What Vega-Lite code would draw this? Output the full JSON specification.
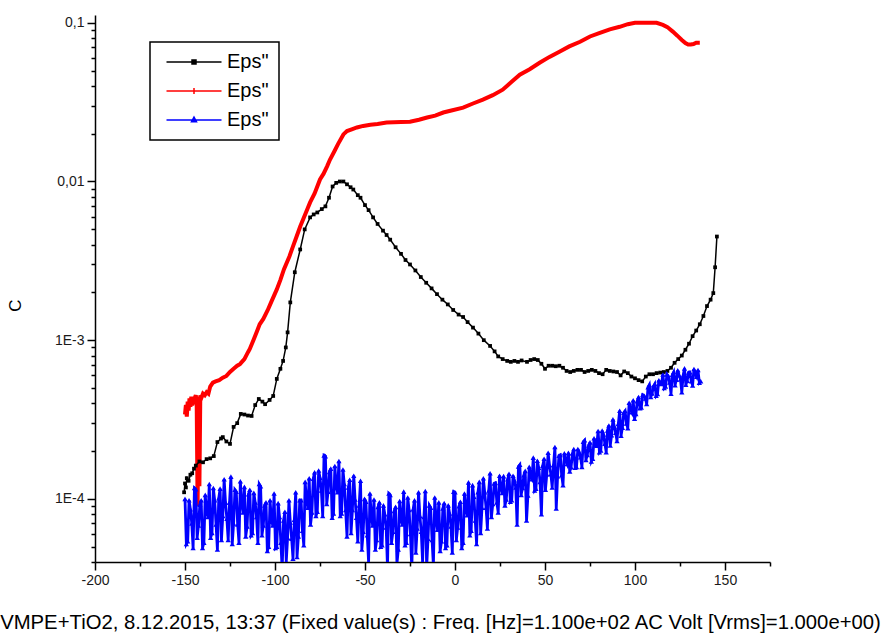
{
"$schema": "https://vega.github.io/schema/vega-lite/v6.json",
"width": 675, "height": 547,
"autosize": {"type": "none"},
"padding": {"left": 95, "top": 15, "right": 112, "bottom": 76},
"background": "#ffffff",
"config": {"view": {"stroke": null}, "axis": {"grid": false, "domainColor": "#000000", "domainWidth": 1.5, "tickColor": "#000000", "tickWidth": 1.5, "labelFont": "Liberation Sans", "labelColor": "#1a1a1a", "labelFontSize": 14, "titleFont": "Liberation Sans", "titleFontWeight": "normal", "titleColor": "#111111"}},
"datasets": {
"black": [
{"T":-150.5,"C":1.10e-4},{"T":-150,"C":1.25e-4},{"T":-149.5,"C":1.18e-4},{"T":-149,"C":1.35e-4},{"T":-148,"C":1.30e-4},{"T":-147,"C":1.42e-4},{"T":-146,"C":1.45e-4},{"T":-145,"C":1.55e-4},{"T":-144,"C":1.62e-4},{"T":-142,"C":1.72e-4},{"T":-140,"C":1.70e-4},{"T":-138,"C":1.78e-4},{"T":-136,"C":1.80e-4},{"T":-134,"C":1.86e-4},{"T":-132,"C":2.28e-4},{"T":-130,"C":2.40e-4},{"T":-129,"C":2.45e-4},{"T":-127,"C":2.30e-4},{"T":-125,"C":2.22e-4},{"T":-123,"C":2.84e-4},{"T":-121,"C":3.0e-4},{"T":-119,"C":3.43e-4},{"T":-117,"C":3.40e-4},{"T":-115,"C":3.35e-4},{"T":-113,"C":3.33e-4},{"T":-111,"C":3.9e-4},{"T":-109,"C":4.26e-4},{"T":-107,"C":4.1e-4},{"T":-105.5,"C":3.95e-4},{"T":-103,"C":4.2e-4},{"T":-101,"C":4.45e-4},{"T":-99,"C":5.7e-4},{"T":-97,"C":6.6e-4},{"T":-95.5,"C":7.4e-4},{"T":-94,"C":9.0e-4},{"T":-93,"C":1.12e-3},{"T":-91.5,"C":1.73e-3},{"T":-89,"C":2.68e-3},{"T":-86,"C":3.73e-3},{"T":-83.5,"C":4.99e-3},{"T":-80.5,"C":5.94e-3},{"T":-78.5,"C":6.2e-3},{"T":-76.5,"C":6.38e-3},{"T":-74,"C":6.7e-3},{"T":-72,"C":6.97e-3},{"T":-70,"C":7.9e-3},{"T":-68,"C":9.3e-3},{"T":-66,"C":9.8e-3},{"T":-64,"C":1.0e-2},{"T":-62,"C":1.0e-2},{"T":-60,"C":9.6e-3},{"T":-58,"C":9.2e-3},{"T":-56.5,"C":8.9e-3},{"T":-54,"C":8.2e-3},{"T":-52.5,"C":7.9e-3},{"T":-50,"C":7.1e-3},{"T":-48,"C":6.6e-3},{"T":-45.5,"C":5.94e-3},{"T":-43,"C":5.4e-3},{"T":-40,"C":4.9e-3},{"T":-38,"C":4.6e-3},{"T":-36,"C":4.3e-3},{"T":-33,"C":3.85e-3},{"T":-30,"C":3.5e-3},{"T":-27.5,"C":3.2e-3},{"T":-25,"C":3.0e-3},{"T":-22,"C":2.75e-3},{"T":-19,"C":2.5e-3},{"T":-16,"C":2.3e-3},{"T":-13,"C":2.12e-3},{"T":-10,"C":1.95e-3},{"T":-7,"C":1.8e-3},{"T":-4,"C":1.68e-3},{"T":-1,"C":1.55e-3},{"T":2,"C":1.45e-3},{"T":4.5,"C":1.4e-3},{"T":7,"C":1.3e-3},{"T":10,"C":1.2e-3},{"T":13,"C":1.1e-3},{"T":16,"C":1.0e-3},{"T":19.5,"C":9.2e-4},{"T":22,"C":8.5e-4},{"T":24,"C":7.9e-4},{"T":26.5,"C":7.6e-4},{"T":29,"C":7.4e-4},{"T":31,"C":7.3e-4},{"T":33,"C":7.4e-4},{"T":35,"C":7.3e-4},{"T":37,"C":7.45e-4},{"T":40,"C":7.3e-4},{"T":42,"C":7.5e-4},{"T":44,"C":7.6e-4},{"T":46,"C":7.5e-4},{"T":48,"C":7.1e-4},{"T":50,"C":6.6e-4},{"T":52,"C":6.9e-4},{"T":54,"C":6.9e-4},{"T":56,"C":6.85e-4},{"T":58,"C":6.9e-4},{"T":60,"C":6.7e-4},{"T":62,"C":6.4e-4},{"T":64,"C":6.3e-4},{"T":66,"C":6.4e-4},{"T":68,"C":6.5e-4},{"T":70,"C":6.5e-4},{"T":72,"C":6.3e-4},{"T":74,"C":6.4e-4},{"T":76,"C":6.5e-4},{"T":78,"C":6.4e-4},{"T":80,"C":6.2e-4},{"T":82,"C":6.1e-4},{"T":84,"C":6.5e-4},{"T":86,"C":6.4e-4},{"T":88,"C":6.35e-4},{"T":90,"C":6.3e-4},{"T":92,"C":6.0e-4},{"T":94,"C":6.35e-4},{"T":96,"C":6.2e-4},{"T":98,"C":5.9e-4},{"T":100,"C":5.75e-4},{"T":102,"C":5.6e-4},{"T":104,"C":5.5e-4},{"T":106,"C":5.9e-4},{"T":108,"C":6.1e-4},{"T":110,"C":6.1e-4},{"T":112,"C":6.2e-4},{"T":114,"C":6.25e-4},{"T":116,"C":6.3e-4},{"T":118,"C":6.4e-4},{"T":120,"C":6.7e-4},{"T":122,"C":7.2e-4},{"T":124,"C":7.6e-4},{"T":126,"C":8.0e-4},{"T":128,"C":8.7e-4},{"T":130,"C":9.5e-4},{"T":132,"C":1.06e-3},{"T":134,"C":1.15e-3},{"T":136,"C":1.26e-3},{"T":138,"C":1.42e-3},{"T":140,"C":1.64e-3},{"T":142,"C":1.8e-3},{"T":143.5,"C":1.98e-3},{"T":144.5,"C":2.88e-3},{"T":145.5,"C":4.5e-3}
],
"red": [
{"T":-150,"C":3.4e-4},{"T":-149.5,"C":3.9e-4},{"T":-149,"C":3.3e-4},{"T":-148.5,"C":4.1e-4},{"T":-148,"C":3.6e-4},{"T":-147.5,"C":4.3e-4},{"T":-147,"C":3.8e-4},{"T":-146.5,"C":4.4e-4},{"T":-146,"C":3.9e-4},{"T":-145,"C":4.2e-4},{"T":-144,"C":4.5e-4},{"T":-143.5,"C":4.0e-4},{"T":-143,"C":9.0e-5},{"T":-142.5,"C":4.4e-4},{"T":-142,"C":1.2e-4},{"T":-141.5,"C":4.5e-4},{"T":-141,"C":4.3e-4},{"T":-140,"C":4.6e-4},{"T":-139,"C":4.5e-4},{"T":-138,"C":4.7e-4},{"T":-137,"C":4.6e-4},{"T":-136,"C":5.1e-4},{"T":-134.5,"C":5.4e-4},{"T":-133,"C":5.5e-4},{"T":-131,"C":5.6e-4},{"T":-129,"C":5.8e-4},{"T":-127,"C":5.95e-4},{"T":-125,"C":6.3e-4},{"T":-123,"C":6.6e-4},{"T":-121,"C":6.9e-4},{"T":-119.5,"C":7.06e-4},{"T":-117,"C":7.6e-4},{"T":-115,"C":8.4e-4},{"T":-114,"C":8.8e-4},{"T":-112,"C":1.0e-3},{"T":-110,"C":1.14e-3},{"T":-108.5,"C":1.26e-3},{"T":-106.5,"C":1.36e-3},{"T":-104,"C":1.55e-3},{"T":-102,"C":1.75e-3},{"T":-99,"C":2.09e-3},{"T":-97,"C":2.4e-3},{"T":-95,"C":2.8e-3},{"T":-92,"C":3.37e-3},{"T":-90,"C":3.9e-3},{"T":-88,"C":4.5e-3},{"T":-86,"C":5.2e-3},{"T":-84,"C":5.9e-3},{"T":-82,"C":6.7e-3},{"T":-80.5,"C":7.38e-3},{"T":-78,"C":8.4e-3},{"T":-76.5,"C":9.3e-3},{"T":-75,"C":1.03e-2},{"T":-73,"C":1.12e-2},{"T":-71,"C":1.25e-2},{"T":-69.5,"C":1.37e-2},{"T":-67,"C":1.55e-2},{"T":-65,"C":1.72e-2},{"T":-62,"C":1.98e-2},{"T":-60,"C":2.08e-2},{"T":-57,"C":2.14e-2},{"T":-54.5,"C":2.19e-2},{"T":-51,"C":2.24e-2},{"T":-47,"C":2.28e-2},{"T":-43,"C":2.3e-2},{"T":-38,"C":2.35e-2},{"T":-34,"C":2.36e-2},{"T":-30,"C":2.37e-2},{"T":-25,"C":2.38e-2},{"T":-20,"C":2.45e-2},{"T":-15.5,"C":2.53e-2},{"T":-11,"C":2.6e-2},{"T":-6.5,"C":2.72e-2},{"T":-2,"C":2.8e-2},{"T":4.5,"C":2.92e-2},{"T":10,"C":3.1e-2},{"T":15.5,"C":3.28e-2},{"T":21,"C":3.5e-2},{"T":26.5,"C":3.79e-2},{"T":31,"C":4.2e-2},{"T":36,"C":4.71e-2},{"T":41.5,"C":5.1e-2},{"T":47,"C":5.6e-2},{"T":52.5,"C":6.1e-2},{"T":58,"C":6.58e-2},{"T":63.5,"C":7.1e-2},{"T":69.5,"C":7.6e-2},{"T":75,"C":8.2e-2},{"T":80.5,"C":8.65e-2},{"T":86,"C":9.1e-2},{"T":91.5,"C":9.44e-2},{"T":96,"C":9.8e-2},{"T":100,"C":1.0e-1},{"T":104,"C":1.0e-1},{"T":108,"C":1.0e-1},{"T":112,"C":1.0e-1},{"T":115.5,"C":9.7e-2},{"T":118,"C":9.4e-2},{"T":121,"C":8.8e-2},{"T":123.5,"C":8.3e-2},{"T":126,"C":7.8e-2},{"T":128,"C":7.45e-2},{"T":129.5,"C":7.3e-2},{"T":131,"C":7.3e-2},{"T":132.5,"C":7.35e-2},{"T":134,"C":7.5e-2},{"T":136,"C":7.5e-2}
],
"blue": [
{"T":-150,"C":10.0e-5},{"T":-148.5,"C":5.4e-5},{"T":-147,"C":8.6e-5},{"T":-145.5,"C":4.9e-5},{"T":-144,"C":11.5e-5},{"T":-142.5,"C":6.8e-5},{"T":-141,"C":9.8e-5},{"T":-139.5,"C":5.3e-5},{"T":-138,"C":8.3e-5},{"T":-136.5,"C":12.4e-5},{"T":-135,"C":6.1e-5},{"T":-133.5,"C":9.8e-5},{"T":-132,"C":4.8e-5},{"T":-130.5,"C":11.6e-5},{"T":-129,"C":7.8e-5},{"T":-127.5,"C":9.5e-5},{"T":-126,"C":5.5e-5},{"T":-124.5,"C":13.8e-5},{"T":-123,"C":7.0e-5},{"T":-121.5,"C":11.1e-5},{"T":-120,"C":5.3e-5},{"T":-118.5,"C":9.4e-5},{"T":-117,"C":11.9e-5},{"T":-115.5,"C":6.7e-5},{"T":-114,"C":11.4e-5},{"T":-112.5,"C":6.1e-5},{"T":-111,"C":9.5e-5},{"T":-109.5,"C":5.3e-5},{"T":-108,"C":12.0e-5},{"T":-106.5,"C":6.8e-5},{"T":-105,"C":9.5e-5},{"T":-103.5,"C":5.0e-5},{"T":-102,"C":7.4e-5},{"T":-100.5,"C":10.8e-5},{"T":-99,"C":5.0e-5},{"T":-97.5,"C":7.7e-5},{"T":-96,"C":3.6e-5},{"T":-94.5,"C":8.3e-5},{"T":-93,"C":5.7e-5},{"T":-91.5,"C":7.1e-5},{"T":-90,"C":4.2e-5},{"T":-88.5,"C":11.0e-5},{"T":-87,"C":5.8e-5},{"T":-85.5,"C":9.8e-5},{"T":-84,"C":5.1e-5},{"T":-82.5,"C":9.8e-5},{"T":-81,"C":13.5e-5},{"T":-79.5,"C":8.2e-5},{"T":-78,"C":14.7e-5},{"T":-76.5,"C":8.3e-5},{"T":-75,"C":13.6e-5},{"T":-73.5,"C":7.8e-5},{"T":-72,"C":18.6e-5},{"T":-70.5,"C":11.1e-5},{"T":-69,"C":15.5e-5},{"T":-67.5,"C":8.1e-5},{"T":-66,"C":12.1e-5},{"T":-64.5,"C":17.3e-5},{"T":-63,"C":8.1e-5},{"T":-61.5,"C":12.4e-5},{"T":-60,"C":5.8e-5},{"T":-58.5,"C":13.2e-5},{"T":-57,"C":8.5e-5},{"T":-55.5,"C":9.9e-5},{"T":-54,"C":5.4e-5},{"T":-52.5,"C":13.0e-5},{"T":-51,"C":6.2e-5},{"T":-49.5,"C":9.6e-5},{"T":-48,"C":4.0e-5},{"T":-46.5,"C":7.8e-5},{"T":-45,"C":9.9e-5},{"T":-43.5,"C":5.5e-5},{"T":-42,"C":9.5e-5},{"T":-40.5,"C":5.1e-5},{"T":-39,"C":8.0e-5},{"T":-37.5,"C":3.7e-5},{"T":-36,"C":10.6e-5},{"T":-34.5,"C":6.2e-5},{"T":-33,"C":8.9e-5},{"T":-31.5,"C":4.8e-5},{"T":-30,"C":7.4e-5},{"T":-28.5,"C":11.1e-5},{"T":-27,"C":5.3e-5},{"T":-25.5,"C":8.5e-5},{"T":-24,"C":3.6e-5},{"T":-22.5,"C":9.8e-5},{"T":-21,"C":6.5e-5},{"T":-19.5,"C":7.8e-5},{"T":-18,"C":4.0e-5},{"T":-16.5,"C":11.2e-5},{"T":-15,"C":5.6e-5},{"T":-13.5,"C":8.8e-5},{"T":-12,"C":3.8e-5},{"T":-10.5,"C":7.4e-5},{"T":-9,"C":9.5e-5},{"T":-7.5,"C":5.4e-5},{"T":-6,"C":9.4e-5},{"T":-4.5,"C":5.1e-5},{"T":-3,"C":8.1e-5},{"T":-1.5,"C":4.6e-5},{"T":0,"C":11.0e-5},{"T":1.5,"C":6.6e-5},{"T":3,"C":9.6e-5},{"T":4.5,"C":5.3e-5},{"T":6,"C":8.4e-5},{"T":7.5,"C":12.7e-5},{"T":9,"C":6.3e-5},{"T":10.5,"C":10.3e-5},{"T":12,"C":5.2e-5},{"T":13.5,"C":12.8e-5},{"T":15,"C":8.8e-5},{"T":16.5,"C":11.0e-5},{"T":18,"C":6.5e-5},{"T":19.5,"C":14.5e-5},{"T":21,"C":9.3e-5},{"T":22.5,"C":12.6e-5},{"T":24,"C":8.2e-5},{"T":25.5,"C":11.8e-5},{"T":27,"C":13.9e-5},{"T":28.5,"C":9.9e-5},{"T":30,"C":14.4e-5},{"T":31.5,"C":9.8e-5},{"T":33,"C":13.1e-5},{"T":34.5,"C":6.9e-5},{"T":36,"C":16.4e-5},{"T":37.5,"C":11.7e-5},{"T":39,"C":15.0e-5},{"T":40.5,"C":10.5e-5},{"T":42,"C":13.7e-5},{"T":43.5,"C":18.2e-5},{"T":45,"C":11.6e-5},{"T":46.5,"C":15.7e-5},{"T":48,"C":8.0e-5},{"T":49.5,"C":17.9e-5},{"T":51,"C":14.3e-5},{"T":52.5,"C":16.3e-5},{"T":54,"C":11.8e-5},{"T":55.5,"C":21.2e-5},{"T":57,"C":13.9e-5},{"T":58.5,"C":18.9e-5},{"T":60,"C":12.2e-5},{"T":61.5,"C":17.4e-5},{"T":63,"C":19.5e-5},{"T":64.5,"C":15.8e-5},{"T":66,"C":20.6e-5},{"T":67.5,"C":15.9e-5},{"T":69,"C":19.7e-5},{"T":70.5,"C":15.9e-5},{"T":72,"C":23.4e-5},{"T":73.5,"C":18.9e-5},{"T":75,"C":22.7e-5},{"T":76.5,"C":17.9e-5},{"T":78,"C":21.8e-5},{"T":79.5,"C":26.8e-5},{"T":81,"C":20.2e-5},{"T":82.5,"C":25.5e-5},{"T":84,"C":19.7e-5},{"T":85.5,"C":29.0e-5},{"T":87,"C":25.2e-5},{"T":88.5,"C":28.5e-5},{"T":90,"C":23.2e-5},{"T":91.5,"C":35.9e-5},{"T":93,"C":28.1e-5},{"T":94.5,"C":35.8e-5},{"T":96,"C":27.9e-5},{"T":97.5,"C":36.6e-5},{"T":99,"C":41.8e-5},{"T":100.5,"C":34.3e-5},{"T":102,"C":43.8e-5},{"T":103.5,"C":37.6e-5},{"T":105,"C":44.8e-5},{"T":106.5,"C":39.7e-5},{"T":108,"C":52.4e-5},{"T":109.5,"C":46.1e-5},{"T":111,"C":53.0e-5},{"T":112.5,"C":45.8e-5},{"T":114,"C":53.0e-5},{"T":115.5,"C":60.8e-5},{"T":117,"C":51.0e-5},{"T":118.5,"C":59.3e-5},{"T":120,"C":46.0e-5},{"T":121.5,"C":63.0e-5},{"T":123,"C":56.4e-5},{"T":124.5,"C":60.2e-5},{"T":126,"C":47.0e-5},{"T":127.5,"C":66.4e-5},{"T":129,"C":55.5e-5},{"T":130.5,"C":62.8e-5},{"T":132,"C":51.9e-5},{"T":133.5,"C":61.2e-5},{"T":135,"C":64.8e-5},{"T":136.5,"C":55.2e-5},
{"T":-149.25,"C":5.2e-5},{"T":-147.75,"C":9.8e-5},{"T":-146.25,"C":7.0e-5},{"T":-144.75,"C":11.7e-5},{"T":-143.25,"C":5.7e-5},{"T":-141.75,"C":9.2e-5},{"T":-140.25,"C":4.9e-5},{"T":-138.75,"C":10.6e-5},{"T":-137.25,"C":7.7e-5},{"T":-135.75,"C":5.7e-5},{"T":-134.25,"C":11.7e-5},{"T":-132.75,"C":6.9e-5},{"T":-131.25,"C":10.1e-5},{"T":-129.75,"C":5.5e-5},{"T":-128.25,"C":13.3e-5},{"T":-126.75,"C":7.5e-5},{"T":-125.25,"C":9.5e-5},{"T":-123.75,"C":5.2e-5},{"T":-122.25,"C":11.4e-5},{"T":-120.75,"C":6.9e-5},{"T":-119.25,"C":12.9e-5},{"T":-117.75,"C":8.2e-5},{"T":-116.25,"C":5.8e-5},{"T":-114.75,"C":10.7e-5},{"T":-113.25,"C":5.9e-5},{"T":-111.75,"C":10.9e-5},{"T":-110.25,"C":7.7e-5},{"T":-108.75,"C":12.4e-5},{"T":-107.25,"C":5.9e-5},{"T":-105.75,"C":9.1e-5},{"T":-104.25,"C":4.7e-5},{"T":-102.75,"C":9.8e-5},{"T":-101.25,"C":6.8e-5},{"T":-99.75,"C":4.9e-5},{"T":-98.25,"C":9.4e-5},{"T":-96.75,"C":5.3e-5},{"T":-95.25,"C":7.3e-5},{"T":-93.75,"C":4.0e-5},{"T":-92.25,"C":9.8e-5},{"T":-90.75,"C":5.6e-5},{"T":-89.25,"C":7.4e-5},{"T":-87.75,"C":4.3e-5},{"T":-86.25,"C":9.8e-5},{"T":-84.75,"C":6.3e-5},{"T":-83.25,"C":12.8e-5},{"T":-81.75,"C":8.8e-5},{"T":-80.25,"C":6.9e-5},{"T":-78.75,"C":13.4e-5},{"T":-77.25,"C":7.8e-5},{"T":-75.75,"C":15.1e-5},{"T":-74.25,"C":11.3e-5},{"T":-72.75,"C":18.8e-5},{"T":-71.25,"C":9.3e-5},{"T":-69.75,"C":14.8e-5},{"T":-68.25,"C":7.6e-5},{"T":-66.75,"C":16.1e-5},{"T":-65.25,"C":11.0e-5},{"T":-63.75,"C":7.8e-5},{"T":-62.25,"C":15.3e-5},{"T":-60.75,"C":8.5e-5},{"T":-59.25,"C":11.8e-5},{"T":-57.75,"C":6.1e-5},{"T":-56.25,"C":14.0e-5},{"T":-54.75,"C":7.6e-5},{"T":-53.25,"C":9.1e-5},{"T":-51.75,"C":4.8e-5},{"T":-50.25,"C":10.0e-5},{"T":-48.75,"C":5.9e-5},{"T":-47.25,"C":10.8e-5},{"T":-45.75,"C":6.8e-5},{"T":-44.25,"C":4.8e-5},{"T":-42.75,"C":8.9e-5},{"T":-41.25,"C":5.0e-5},{"T":-39.75,"C":9.1e-5},{"T":-38.25,"C":6.6e-5},{"T":-36.75,"C":10.8e-5},{"T":-35.25,"C":5.3e-5},{"T":-33.75,"C":8.4e-5},{"T":-32.25,"C":3.9e-5},{"T":-30.75,"C":9.7e-5},{"T":-29.25,"C":6.9e-5},{"T":-27.75,"C":5.1e-5},{"T":-26.25,"C":10.2e-5},{"T":-24.75,"C":6.0e-5},{"T":-23.25,"C":8.6e-5},{"T":-21.75,"C":4.6e-5},{"T":-20.25,"C":11.0e-5},{"T":-18.75,"C":6.2e-5},{"T":-17.25,"C":7.7e-5},{"T":-15.75,"C":3.7e-5},{"T":-14.25,"C":9.1e-5},{"T":-12.75,"C":5.5e-5},{"T":-11.25,"C":10.2e-5},{"T":-9.75,"C":6.4e-5},{"T":-8.25,"C":4.7e-5},{"T":-6.75,"C":8.7e-5},{"T":-5.25,"C":4.9e-5},{"T":-3.75,"C":9.1e-5},{"T":-2.25,"C":6.7e-5},{"T":-0.75,"C":11.1e-5},{"T":0.75,"C":5.5e-5},{"T":2.25,"C":9.0e-5},{"T":3.75,"C":4.9e-5},{"T":5.25,"C":10.8e-5},{"T":6.75,"C":7.9e-5},{"T":8.25,"C":5.9e-5},{"T":9.75,"C":12.2e-5},{"T":11.25,"C":7.3e-5},{"T":12.75,"C":11.0e-5},{"T":14.25,"C":6.1e-5},{"T":15.75,"C":13.5e-5},{"T":17.25,"C":8.8e-5},{"T":18.75,"C":11.3e-5},{"T":20.25,"C":7.7e-5},{"T":21.75,"C":12.5e-5},{"T":23.25,"C":9.5e-5},{"T":24.75,"C":14.0e-5},{"T":26.25,"C":10.9e-5},{"T":27.75,"C":9.1e-5},{"T":29.25,"C":13.3e-5},{"T":30.75,"C":9.6e-5},{"T":32.25,"C":14.0e-5},{"T":33.75,"C":11.8e-5},{"T":35.25,"C":16.0e-5},{"T":36.75,"C":10.6e-5},{"T":38.25,"C":14.1e-5},{"T":39.75,"C":7.3e-5},{"T":41.25,"C":15.9e-5},{"T":42.75,"C":13.3e-5},{"T":44.25,"C":11.3e-5},{"T":45.75,"C":17.4e-5},{"T":47.25,"C":12.8e-5},{"T":48.75,"C":16.2e-5},{"T":50.25,"C":11.4e-5},{"T":51.75,"C":19.5e-5},{"T":53.25,"C":14.3e-5},{"T":54.75,"C":16.4e-5},{"T":56.25,"C":8.7e-5},{"T":57.75,"C":18.7e-5},{"T":59.25,"C":14.1e-5},{"T":60.75,"C":19.4e-5},{"T":62.25,"C":16.6e-5},{"T":63.75,"C":14.9e-5},{"T":65.25,"C":19.3e-5},{"T":66.75,"C":15.7e-5},{"T":68.25,"C":20.6e-5},{"T":69.75,"C":18.3e-5},{"T":71.25,"C":22.9e-5},{"T":72.75,"C":17.6e-5},{"T":74.25,"C":21.7e-5},{"T":75.75,"C":17.2e-5},{"T":77.25,"C":24.1e-5},{"T":78.75,"C":21.6e-5},{"T":80.25,"C":19.7e-5},{"T":81.75,"C":26.9e-5},{"T":83.25,"C":22.3e-5},{"T":84.75,"C":27.0e-5},{"T":86.25,"C":21.7e-5},{"T":87.75,"C":31.7e-5},{"T":89.25,"C":26.1e-5},{"T":90.75,"C":29.8e-5},{"T":92.25,"C":25.0e-5},{"T":93.75,"C":34.9e-5},{"T":95.25,"C":29.9e-5},{"T":96.75,"C":40.3e-5},{"T":98.25,"C":35.1e-5},{"T":99.75,"C":32.0e-5},{"T":101.25,"C":41.3e-5},{"T":102.75,"C":37.3e-5},{"T":104.25,"C":45.2e-5},{"T":105.75,"C":43.0e-5},{"T":107.25,"C":50.5e-5},{"T":108.75,"C":43.8e-5},{"T":110.25,"C":51.2e-5},{"T":111.75,"C":44.6e-5},{"T":113.25,"C":55.9e-5},{"T":114.75,"C":53.1e-5},{"T":116.25,"C":49.9e-5},{"T":117.75,"C":60.9e-5},{"T":119.25,"C":54.2e-5},{"T":120.75,"C":60.5e-5},{"T":122.25,"C":52.1e-5},{"T":123.75,"C":64.6e-5},{"T":125.25,"C":56.7e-5},{"T":126.75,"C":59.9e-5},{"T":128.25,"C":52.4e-5},{"T":129.75,"C":62.6e-5},{"T":131.25,"C":55.2e-5},{"T":132.75,"C":65.8e-5},{"T":134.25,"C":58.8e-5},{"T":135.75,"C":54.0e-5}
]
},
"encoding": {
"x": {"field": "T", "type": "quantitative", "scale": {"domain": [-200, 175], "nice": false, "zero": false},
 "axis": {"values": [-200,-175,-150,-125,-100,-75,-50,-25,0,25,50,75,100,125,150,175],
  "labelExpr": "datum.value % 50 === 0 ? datum.value + '' : ''",
  "tickSize": {"condition": {"test": "datum.value % 50 === 0", "value": 8}, "value": 4},
  "labelPadding": 3, "labelFlush": false, "labelOverlap": false,
  "title": "VMPE+TiO2, 8.12.2015, 13:37 (Fixed value(s) :  Freq. [Hz]=1.100e+02  AC Volt  [Vrms]=1.000e+00)",
  "titleFontSize": 20.3, "titleX": 345, "titleY": 66, "titleAlign": "center", "titleBaseline": "alphabetic", "titleColor": "#000000"}},
"y": {"field": "C", "type": "quantitative", "scale": {"type": "log", "domain": [0.00004, 0.112], "nice": false},
 "axis": {"values": [0.00004,0.00005,0.00006,0.00007,0.00008,0.00009,0.0001,0.0002,0.0003,0.0004,0.0005,0.0006,0.0007,0.0008,0.0009,0.001,0.002,0.003,0.004,0.005,0.006,0.007,0.008,0.009,0.01,0.02,0.03,0.04,0.05,0.06,0.07,0.08,0.09,0.1],
  "labelExpr": "datum.value === 0.1 ? '0,1' : datum.value === 0.01 ? '0,01' : datum.value === 0.001 ? '1E-3' : datum.value === 0.0001 ? '1E-4' : ''",
  "tickSize": {"condition": {"test": "datum.value === 0.1 || datum.value === 0.01 || datum.value === 0.001 || datum.value === 0.0001", "value": 8}, "value": 4},
  "labelPadding": 3, "labelOverlap": false, "labelFlush": false,
  "title": "C", "titleFontSize": 17, "titleX": -80, "titleY": 290, "titleAngle": -90, "titleAlign": "center", "titleBaseline": "middle", "titleColor": "#000000"}}
},
"layer": [
{"data": {"name": "red"}, "mark": {"type": "line", "strokeWidth": 4, "clip": true},
 "encoding": {"color": {"datum": "s2", "type": "nominal", "scale": {"domain": ["s1","s2","s3"], "range": ["#000000","#ff0000","#0000ff"]},
  "legend": {"orient": "none", "legendX": 55, "legendY": 27, "title": null, "strokeColor": "#000000", "fillColor": "#ffffff", "padding": 10,
   "labelExpr": "'Eps\"'", "labelFont": "Liberation Sans", "labelFontSize": 20, "labelColor": "#000000", "labelOffset": 23,
   "symbolSize": 100, "symbolOffset": 24, "symbolStrokeWidth": 1.5, "rowPadding": 9,
   "encode": {"legend": {"update": {"strokeWidth": {"value": 1.5}}}, "symbols": {"update": {"shape": {"signal": "datum.value === 's1' ? 'M-5.5,0L5.5,0M-0.4,-0.4L0.4,-0.4L0.4,0.4L-0.4,0.4Z' : datum.value === 's2' ? 'M-5.5,0L5.5,0M0,-0.6L0,0.6' : 'M-5.5,0L5.5,0M0,-0.6L0.5,0.35L-0.5,0.35Z'"}, "fill": {"scale": "color", "field": "value"}, "stroke": {"scale": "color", "field": "value"}, "opacity": {"value": 1}}}}}}}},
{"data": {"name": "black"}, "mark": {"type": "line", "strokeWidth": 1.5, "clip": true},
 "encoding": {"color": {"datum": "s1", "type": "nominal"}}},
{"data": {"name": "black"}, "mark": {"type": "point", "shape": "square", "filled": true, "size": 14, "opacity": 1, "clip": true},
 "encoding": {"color": {"datum": "s1", "type": "nominal"}}},
{"data": {"name": "blue"}, "mark": {"type": "line", "strokeWidth": 2.8, "clip": true},
 "encoding": {"color": {"datum": "s3", "type": "nominal"}}},
{"data": {"name": "blue"}, "mark": {"type": "point", "shape": "triangle-up", "filled": true, "size": 28, "opacity": 1, "clip": true},
 "encoding": {"color": {"datum": "s3", "type": "nominal"}}}
]
}
